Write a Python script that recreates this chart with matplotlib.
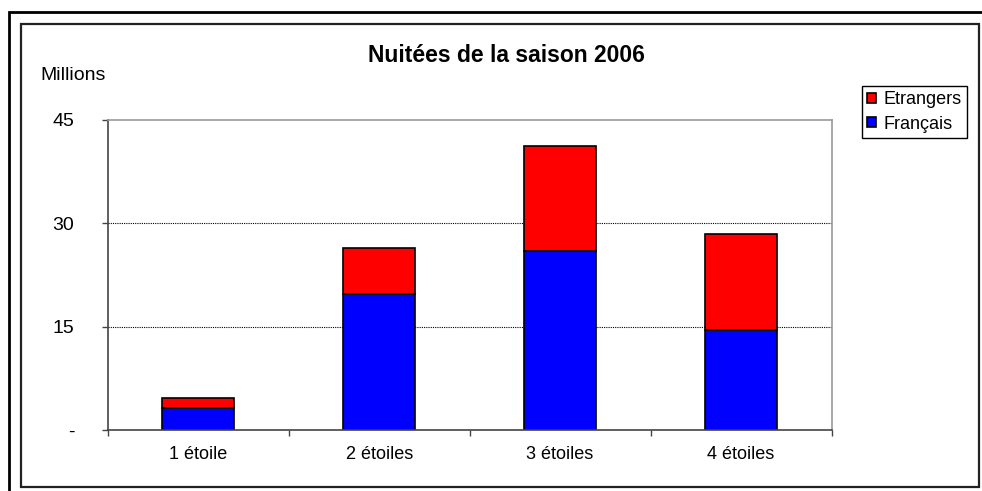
import numpy as np
import matplotlib
matplotlib.use("Agg")
from matplotlib import pyplot as plt
from matplotlib.patches import Rectangle

plt.rcParams['font.family'] = ['Liberation Sans', 'DejaVu Sans']

categories = ["1 étoile", "2 étoiles", "3 étoiles", "4 étoiles"]
francais = [3.2, 19.7, 26.0, 14.6]
etrangers = [1.5, 6.8, 15.2, 13.8]
yticks = [0, 15, 30, 45]
ytick_labels = ["-", "15", "30", "45"]

W, H = 982, 491
fig = plt.figure(figsize=(W / 100, H / 100), dpi=100)

# frames (outer page border + chart border)
fig.patches.append(Rectangle((9 / W, -0.2), 1.2, 1.2 - 12 / H,
                             transform=fig.transFigure, fill=False,
                             edgecolor="black", lw=2.0))
fig.patches.append(Rectangle((21 / W, 1 - 487 / H), (979 - 21) / W, (487 - 24) / H,
                             transform=fig.transFigure, fill=False,
                             edgecolor="#222222", lw=1.6))

ax = fig.add_axes([107.7 / W, 1 - 430.3 / H, (831.5 - 107.7) / W, (430.3 - 120) / H])

x = np.arange(len(categories))
b1 = ax.bar(x, francais, 0.4, color="#0000FF", edgecolor="black", lw=1.2, label="Français")
b2 = ax.bar(x, etrangers, 0.4, bottom=francais, color="#FF0000", edgecolor="black",
            lw=1.2, label="Etrangers")

ax.set_xlim(-0.5, 3.5)
ax.set_ylim(0, 45)

ax.set_xticks(np.arange(-0.5, 4, 1))
ax.set_xticklabels([])
ax.set_xticks(x, minor=True)
ax.set_xticklabels(categories, minor=True, fontsize=13)
ax.tick_params(axis="x", which="major", direction="out", length=4, width=1, color="#444444")
ax.tick_params(axis="x", which="minor", length=0, pad=11)

ax.set_yticks(yticks)
ax.set_yticklabels(ytick_labels, fontsize=14)
ax.tick_params(axis="y", direction="out", length=4, width=1, color="#444444", pad=20)

for v in [15, 30]:
    ax.axhline(v, color="black", lw=0.8, ls=(0, (1, 1)), zorder=0)

ax.spines["left"].set_color("#444444")
ax.spines["bottom"].set_color("#444444")
ax.spines["left"].set_linewidth(1.2)
ax.spines["bottom"].set_linewidth(1.2)
ax.spines["top"].set_color("#999999")
ax.spines["right"].set_color("#999999")
ax.spines["top"].set_linewidth(1.2)
ax.spines["right"].set_linewidth(1.2)

fig.text(506 / W, 1 - 55 / H, "Nuitées de la saison 2006", ha="center", va="center",
         fontsize=16.5, fontweight="bold")
fig.text(40 / W, 1 - 76 / H, "Millions", ha="left", va="center", fontsize=14)

leg = fig.legend([b2, b1], ["Etrangers", "Français"], loc="upper left",
                 bbox_to_anchor=(862 / W, 1 - 86 / H), fancybox=False,
                 edgecolor="black", framealpha=1, fontsize=13,
                 handlelength=0.45, handleheight=0.45, handletextpad=0.45,
                 borderpad=0.3, labelspacing=0.4, borderaxespad=0)
leg.get_frame().set_linewidth(1.0)

fig.savefig("out.png", dpi=100)
